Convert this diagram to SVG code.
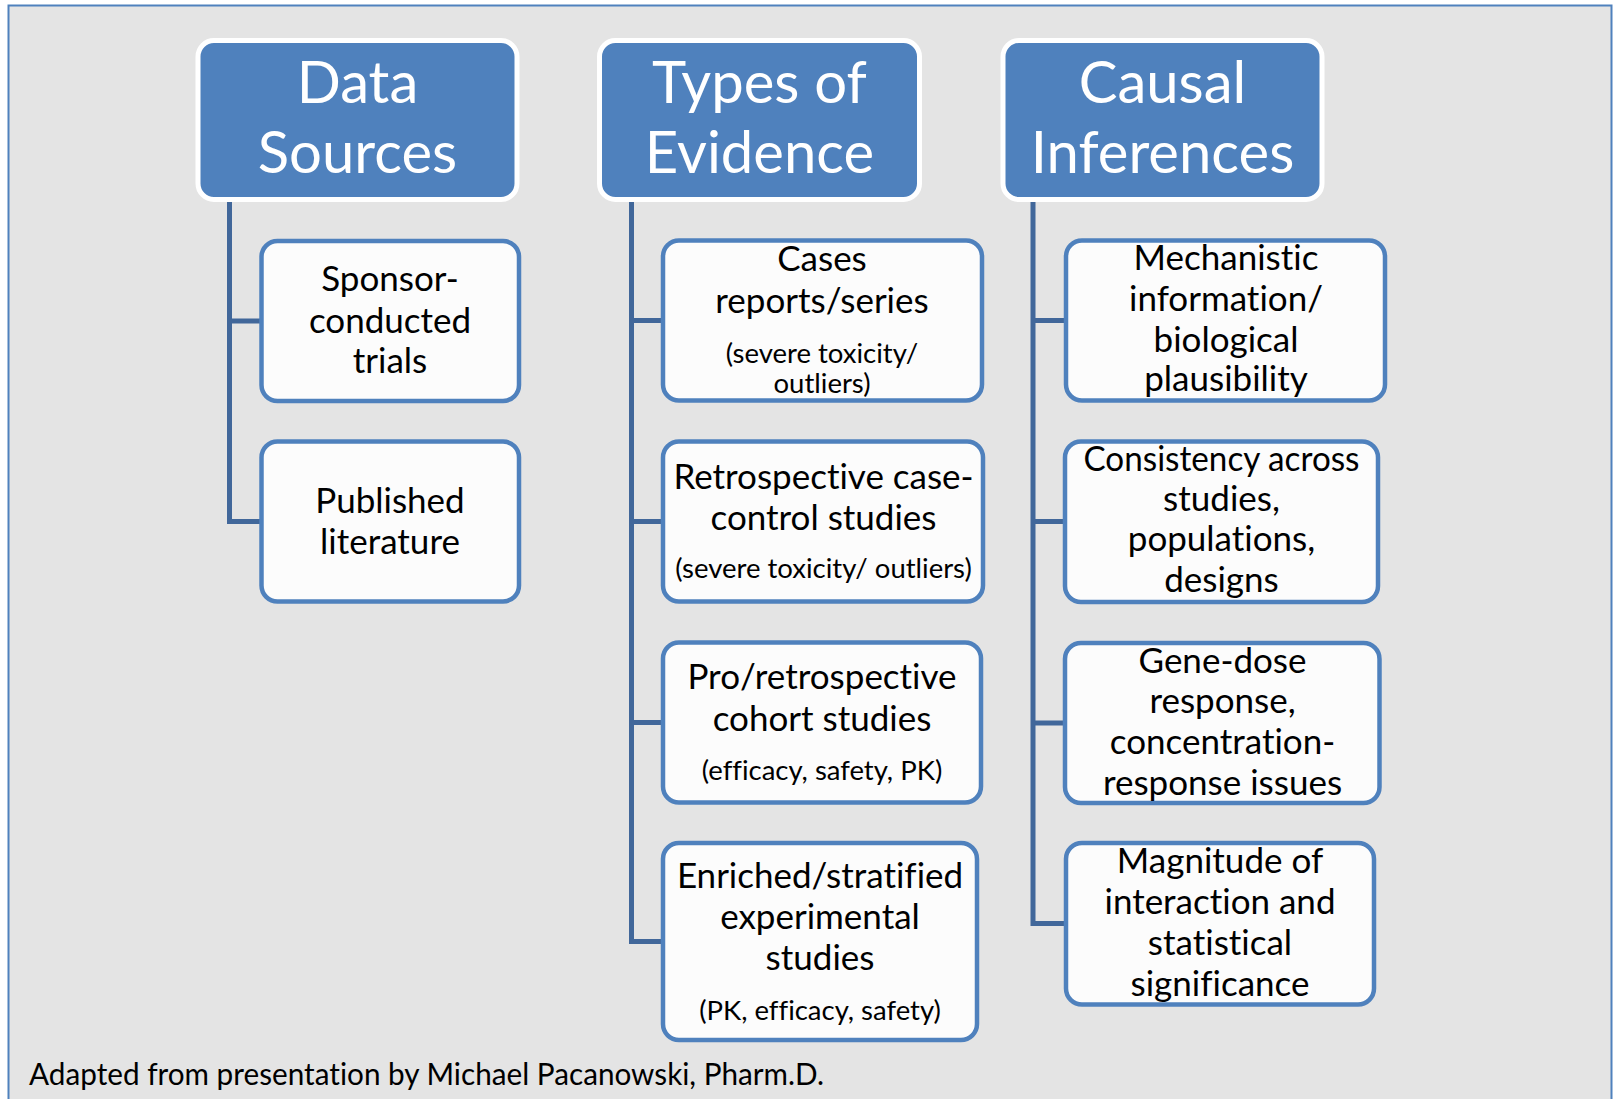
<svg xmlns="http://www.w3.org/2000/svg" width="1613" height="1099" viewBox="0 0 1613 1099">
  <style>
    text { font-variant-ligatures: none; }
    .head rect { fill: #4F81BD; stroke: #FFFFFF; stroke-width: 5; }
    .head text { fill: #FFFFFF; font-family: Lato, "Liberation Sans", sans-serif; font-size: 58px; text-anchor: middle; }
    .item rect { fill: #FCFCFC; stroke: #4F81BD; stroke-width: 4.5; }
    .item text { fill: #000000; font-family: Lato, "Liberation Sans", sans-serif; font-size: 35px; text-anchor: middle; }
    .item text.note { font-size: 27.5px; }
    .links path { fill: none; stroke: #41679A; stroke-width: 5; stroke-linejoin: miter; }
    .credit { fill: #000000; font-family: Lato, "Liberation Sans", sans-serif; font-size: 30px; }
  </style>

  <!-- frame -->
  <rect x="0" y="0" width="1613" height="1099" fill="#FFFFFF"/>
  <rect x="8.5" y="5.5" width="1603" height="1100" fill="#E4E4E4" stroke="#4F81BD" stroke-width="2"/>

  <!-- connectors -->
  <g class="links">
    <path d="M229.5 200 V521.5 H262 M229.5 321 H262"/>
    <path d="M631.5 200 V941.5 H663 M631.5 320.5 H663 M631.5 521.5 H663 M631.5 722.5 H663"/>
    <path d="M1033 200 V923.5 H1066 M1033 320.5 H1066 M1033 521.5 H1066 M1033 723 H1066"/>
  </g>

  <!-- column headers -->
  <g id="head-data" class="head">
    <rect x="198" y="40.5" width="319" height="159" rx="16"/>
    <text x="357.5" y="103">Data</text>
    <text x="357.5" y="173">Sources</text>
  </g>
  <g id="head-evidence" class="head">
    <rect x="599.5" y="40.5" width="320" height="159" rx="16"/>
    <text x="759.5" y="103">Types of</text>
    <text x="759.5" y="173">Evidence</text>
  </g>
  <g id="head-causal" class="head">
    <rect x="1003" y="40.5" width="319" height="159" rx="16"/>
    <text x="1162.5" y="103">Causal</text>
    <text x="1162.5" y="173">Inferences</text>
  </g>

  <!-- data sources -->
  <g id="src-sponsor" class="item">
    <rect x="261.5" y="241" width="257.5" height="160" rx="16"/>
    <text x="390" y="291">Sponsor-</text>
    <text x="390" y="332.5">conducted</text>
    <text x="390" y="372.5">trials</text>
  </g>
  <g id="src-literature" class="item">
    <rect x="261.5" y="441.5" width="257.5" height="160" rx="16"/>
    <text x="390" y="513">Published</text>
    <text x="390" y="554">literature</text>
  </g>

  <!-- types of evidence -->
  <g id="ev-cases" class="item">
    <rect x="663" y="240.5" width="319" height="160" rx="16"/>
    <text x="822" y="271">Cases</text>
    <text x="822" y="312.5">reports/series</text>
    <text class="note" x="822" y="362.5">(severe toxicity/</text>
    <text class="note" x="822" y="392.5">outliers)</text>
  </g>
  <g id="ev-casecontrol" class="item">
    <rect x="663" y="441.5" width="320" height="160" rx="16"/>
    <text x="823.5" y="488.5">Retrospective case-</text>
    <text x="823.5" y="529.5">control studies</text>
    <text class="note" x="823.5" y="577.5">(severe toxicity/ outliers)</text>
  </g>
  <g id="ev-cohort" class="item">
    <rect x="663" y="642.5" width="318" height="160" rx="16"/>
    <text x="822" y="689">Pro/retrospective</text>
    <text x="822" y="730.5">cohort studies</text>
    <text class="note" x="822" y="780">(efficacy, safety, PK)</text>
  </g>
  <g id="ev-enriched" class="item">
    <rect x="663" y="843" width="314" height="197" rx="16"/>
    <text x="820" y="888">Enriched/stratified</text>
    <text x="820" y="928.5">experimental</text>
    <text x="820" y="969.5">studies</text>
    <text class="note" x="820" y="1019.5">(PK, efficacy, safety)</text>
  </g>

  <!-- causal inferences -->
  <g id="ci-mechanistic" class="item">
    <rect x="1066" y="240.5" width="319" height="160" rx="16"/>
    <text x="1226" y="270">Mechanistic</text>
    <text x="1226" y="310.5">information/</text>
    <text x="1226" y="352">biological</text>
    <text x="1226" y="390.5">plausibility</text>
  </g>
  <g id="ci-consistency" class="item">
    <rect x="1065" y="441.5" width="313" height="160.5" rx="16"/>
    <text x="1221.5" y="470.5" textLength="276" lengthAdjust="spacingAndGlyphs">Consistency across</text>
    <text x="1221.5" y="511">studies,</text>
    <text x="1221.5" y="551">populations,</text>
    <text x="1221.5" y="592">designs</text>
  </g>
  <g id="ci-genedose" class="item">
    <rect x="1065" y="643" width="314.5" height="160" rx="16"/>
    <text x="1222.5" y="672.5">Gene-dose</text>
    <text x="1222.5" y="713">response,</text>
    <text x="1222.5" y="754">concentration-</text>
    <text x="1222.5" y="794.5">response issues</text>
  </g>
  <g id="ci-magnitude" class="item">
    <rect x="1066" y="843" width="308" height="161.5" rx="16"/>
    <text x="1220" y="872.5">Magnitude of</text>
    <text x="1220" y="914">interaction and</text>
    <text x="1220" y="955">statistical</text>
    <text x="1220" y="995.5">significance</text>
  </g>

  <text class="credit" x="29" y="1085" textLength="795" lengthAdjust="spacingAndGlyphs">Adapted from presentation by Michael Pacanowski, Pharm.D.</text>
</svg>
